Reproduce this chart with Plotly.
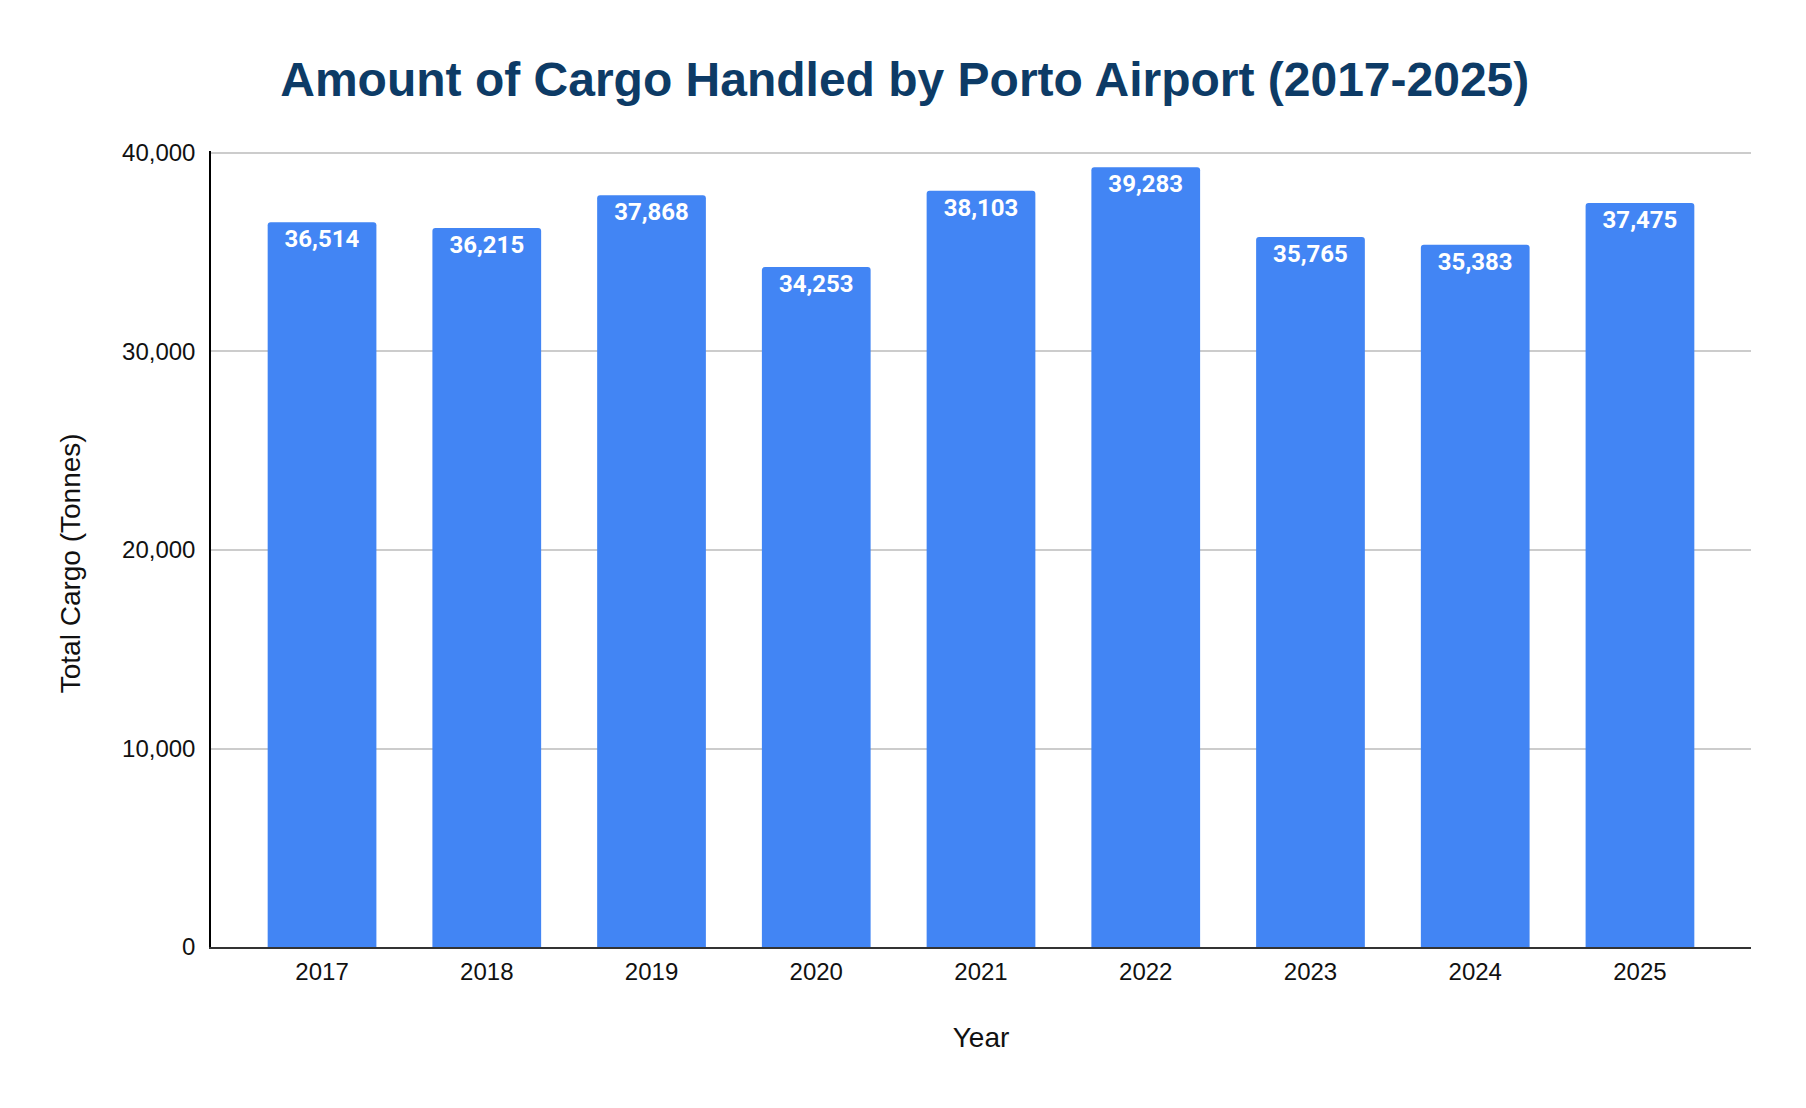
import plotly.graph_objects as go

# Data
years = ["2017", "2018", "2019", "2020", "2021", "2022", "2023", "2024", "2025"]
cargo_tonnes = [36514, 36215, 37868, 34253, 38103, 39283, 35765, 35383, 37475]
y_ticks = [0, 10000, 20000, 30000, 40000]

fig = go.Figure()
fig.add_trace(go.Bar(
    x=years,
    y=cargo_tonnes,
    marker=dict(color="#4285F4", cornerradius=3, line=dict(width=0)),
    texttemplate="%{y:,}",
    textposition="inside",
    insidetextanchor="end",
    textangle=0,
    textfont=dict(family="Roboto", size=24, color="white", weight="bold"),
    showlegend=False,
))

# y axis title placed as an annotation (it sits a little below the plot middle)
fig.add_annotation(
    text="Total Cargo (Tonnes)",
    xref="paper", yref="paper",
    x=-0.0916, y=0.482,
    xanchor="center", yanchor="middle",
    textangle=-90,
    showarrow=False,
    font=dict(family="Liberation Sans, Arial", size=28, color="#111111"),
)

# page body has an 8px margin, so the figure is a bit smaller than the window
fig.update_layout(
    width=1790,
    height=1092,
    margin=dict(l=203, r=47, t=143, b=153),
    paper_bgcolor="white",
    plot_bgcolor="white",
    bargap=0.34,
    font=dict(family="Liberation Sans, Arial", color="#111111"),
    uniformtext=dict(minsize=24, mode="show"),
    title=dict(
        text="<b>Amount of Cargo Handled by Porto Airport (2017-2025)</b>",
        font=dict(family="Liberation Sans, Arial", size=48, color="#0d3b66"),
        x=0.501,
        xanchor="center",
        y=1 - 71 / 1092,
        yanchor="middle",
    ),
    xaxis=dict(
        type="category",
        range=[-0.674, 8.674],
        showgrid=False,
        showline=True,
        linecolor="#333333",
        linewidth=2,
        ticks="",
        ticklabelstandoff=2,
        tickfont=dict(size=24, color="#111111"),
        title=dict(text="Year", font=dict(size=28, color="#111111"), standoff=44),
    ),
    yaxis=dict(
        range=[0, 40100],
        tickvals=y_ticks,
        tickformat=",",
        showgrid=True,
        gridcolor="#cccccc",
        gridwidth=1.5,
        showline=True,
        linecolor="#000000",
        linewidth=1.5,
        zeroline=False,
        ticks="",
        ticklabelstandoff=9,
        tickfont=dict(size=24, color="#111111"),
    ),
)

fig.write_html("out.html")
